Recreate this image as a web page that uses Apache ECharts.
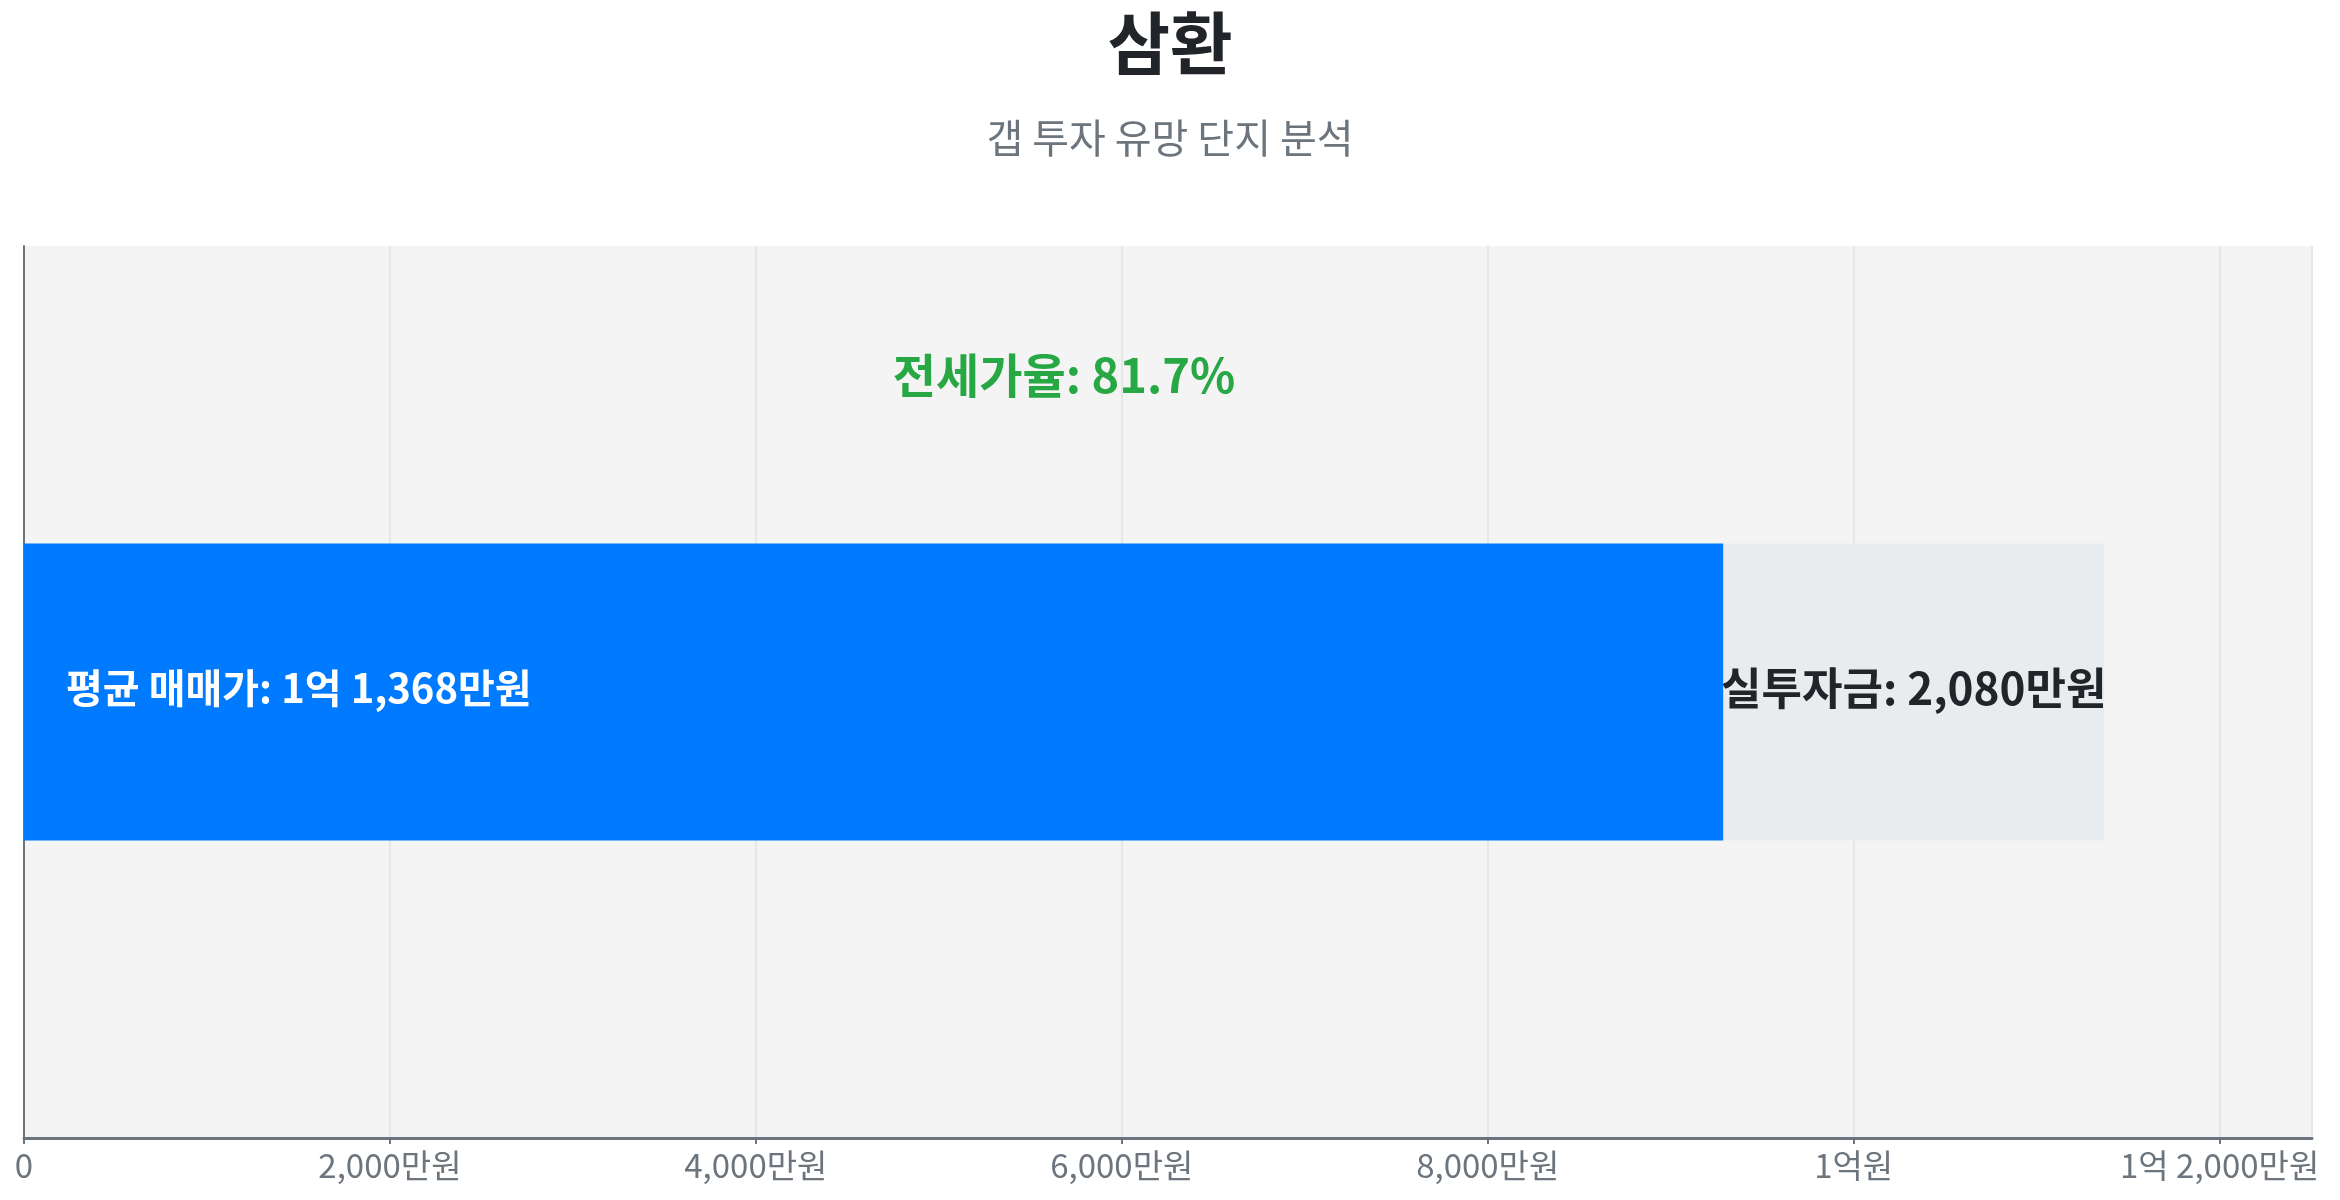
<!DOCTYPE html>
<html>
<head>
<meta charset="utf-8">
<script src="https://cdn.jsdelivr.net/npm/echarts@6/dist/echarts.min.js"></script>
<style>
  html, body { margin: 0; padding: 0; background: #fff; }
  #chart { width: 2340px; height: 1200px; }
</style>
</head>
<body>
<div id="chart"></div>
<script>
// 단지 데이터 (만원 단위)
const categories = ['삼환'];
const salePrice = [11368];       // 평균 매매가
const investment = [2080];       // 실투자금
const jeonseRatio = [81.7];      // 전세가율 (%)
const jeonsePrice = salePrice.map((v, i) => v - investment[i]);

const FONT = '"Noto Sans CJK KR", "Noto Sans", sans-serif';

// 만원 → "1억 2,000만원" 형식
const formatWon = (v) => {
  if (v === 0) return '0';
  const eok = Math.floor(v / 10000);
  const man = v % 10000;
  if (eok > 0) {
    return man > 0 ? `${eok}억 ${man.toLocaleString()}만원` : `${eok}억원`;
  }
  return `${man.toLocaleString()}만원`;
};

const myChart = echarts.init(document.getElementById('chart'));

const option = {
  animation: false,
  title: {
    text: categories[0],
    subtext: '갭 투자 유망 단지 분석',
    left: 'center',
    top: 4,
    itemGap: 41,
    textStyle: {
      color: '#212529',
      fontFamily: FONT,
      fontSize: 68,
      fontWeight: 'bold'
    },
    subtextStyle: {
      color: '#6c757d',
      fontFamily: FONT,
      fontSize: 40
    }
  },
  grid: {
    left: 24,
    right: 28,
    top: 246,
    bottom: 62,
    show: true,
    backgroundColor: '#f4f4f4',
    borderWidth: 0
  },
  xAxis: {
    type: 'value',
    min: 0,
    max: salePrice[0] * 1.1,
    interval: 2000,
    axisLine: { show: true, lineStyle: { color: '#6c757d', width: 3 } },
    axisTick: { show: true, length: 6, lineStyle: { color: '#6c757d', width: 2 } },
    splitLine: { show: true, lineStyle: { color: '#e6e6e6', width: 2 } },
    axisLabel: {
      color: '#6c757d',
      fontFamily: FONT,
      fontSize: 33,
      margin: 11,
      showMaxLabel: false,
      formatter: formatWon
    }
  },
  yAxis: {
    type: 'category',
    data: categories,
    axisLine: { show: true, lineStyle: { color: '#6c757d', width: 2 } },
    axisTick: { show: false },
    axisLabel: { show: false }
  },
  series: [
    {
      name: '전세가',
      type: 'bar',
      stack: 'total',
      barWidth: '33.3%',
      data: jeonsePrice,
      itemStyle: { color: '#007bff' },
      label: {
        show: true,
        position: 'insideLeft',
        distance: 42,
        offset: [0, -4],
        color: '#fff',
        fontFamily: FONT,
        fontSize: 40,
        fontWeight: 'bold',
        formatter: (p) => `평균 매매가: ${formatWon(salePrice[p.dataIndex])}`
      }
    },
    {
      name: '실투자금',
      type: 'bar',
      stack: 'total',
      data: investment,
      itemStyle: { color: '#e9ecef' },
      label: {
        show: true,
        position: 'inside',
        offset: [0, -4],
        color: '#212529',
        fontFamily: FONT,
        fontSize: 44,
        fontWeight: 'bold',
        formatter: (p) => `실투자금: ${formatWon(p.value)}`
      }
    }
  ]
};

myChart.setOption(option);

// 전세가율 표시: 매매가 중간 위치, 막대 위쪽
const pos = myChart.convertToPixel({ gridIndex: 0 }, [salePrice[0] / 2, categories[0]]);
myChart.setOption({
  graphic: [{
    type: 'text',
    x: pos[0],
    y: pos[1] - 317,
    style: {
      text: `전세가율: ${jeonseRatio[0]}%`,
      fill: '#28a745',
      font: `bold 47px ${FONT}`,
      align: 'center',
      verticalAlign: 'middle'
    }
  }]
});
</script>
</body>
</html>
